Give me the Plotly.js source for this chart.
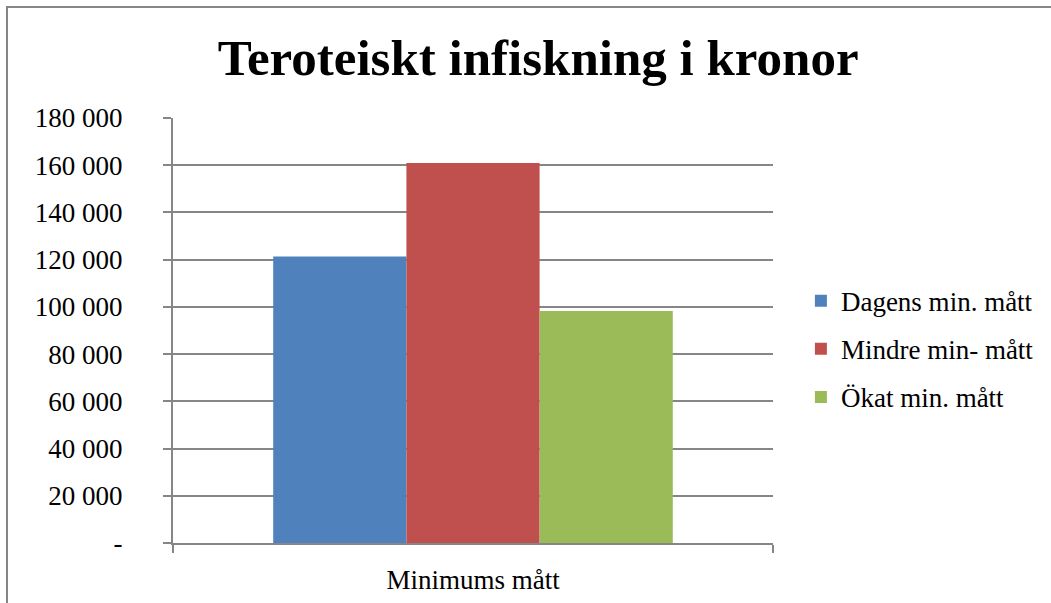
<!DOCTYPE html>
<html><head><meta charset="utf-8">
<script src="https://cdn.plot.ly/plotly-3.0.1.min.js"></script>
<style>
html,body{margin:0;padding:0;overflow:hidden;background:#fff;}
#chart{position:absolute;left:0;top:0;width:1051px;height:603px;}
#frame{position:absolute;left:6px;top:6px;width:1100px;height:700px;border:2px solid #868686;pointer-events:none;box-sizing:border-box;}
</style></head>
<body>
<div id="chart"></div>
<div id="frame"></div>
<script>
const categories = ["Minimums mått"];
const seriesNames = ["Dagens min. mått", "Mindre min- mått", "Ökat min. mått"];
const dagens = [121300];
const mindre = [160900];
const okat = [98300];
const tickValues = [0, 20000, 40000, 60000, 80000, 100000, 120000, 140000, 160000, 180000];
const tickLabels = ["-", "20 000", "40 000", "60 000", "80 000", "100 000", "120 000", "140 000", "160 000", "180 000"];
const colors = ["#4F81BD", "#C0504D", "#9BBB59"];

const FONT = "'Liberation Serif', serif";
const FS = 27;
const values = [dagens, mindre, okat];
const traces = values.map((v, i) => ({
  type: "bar", x: categories, y: v, name: seriesNames[i],
  marker: {color: colors[i]}, legendgroup: "g" + i, hoverinfo: "skip"
}));

const layout = {
  width: 1051, height: 603,
  margin: {l: 173, r: 276, t: 118, b: 60, pad: 0},
  paper_bgcolor: "#fff", plot_bgcolor: "#fff",
  font: {family: FONT, size: FS, color: "#000"},
  title: {text: "<b>Teroteiskt infiskning i kronor</b>", font: {family: FONT, size: 51, color: "#000"},
          x: 0.512, xanchor: "center", y: 0.905, yanchor: "middle"},
  barmode: "group", bargap: 0.334, bargroupgap: 0,
  xaxis: {type: "category", showgrid: false, showline: true, linecolor: "#868686", linewidth: 2,
          ticks: "outside", tickson: "boundaries", ticklen: 8, tickcolor: "#868686", tickwidth: 2,
          ticklabelstandoff: 12, tickfont: {family: FONT, size: FS}, zeroline: false},
  yaxis: {range: [0, 180000], tickvals: tickValues, ticktext: tickLabels, showgrid: true,
          gridcolor: "#868686", gridwidth: 2, showline: true, linecolor: "#868686", linewidth: 2,
          ticks: "outside", ticklen: 8, tickcolor: "#868686", tickwidth: 2, zeroline: false,
          ticklabelstandoff: 35, tickfont: {family: FONT, size: FS}},
  legend: {x: 1.0465, xanchor: "left", y: 0.456, yanchor: "middle", traceorder: "grouped",
           tracegroupgap: 10, font: {family: FONT, size: FS}, bgcolor: "rgba(0,0,0,0)"},
  showlegend: true
};
Plotly.newPlot("chart", traces, layout, {staticPlot: true, displayModeBar: false});
</script>
</body></html>
